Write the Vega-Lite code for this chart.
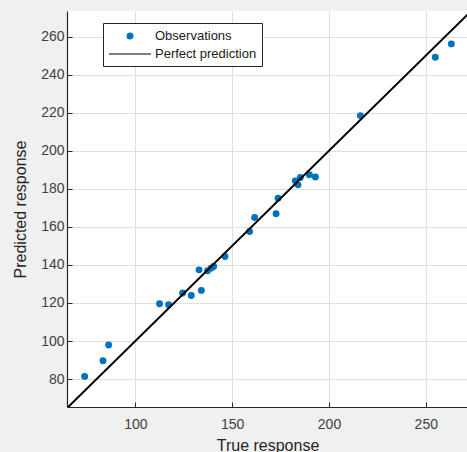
{
  "$schema": "https://vega.github.io/schema/vega-lite/v6.json",
  "autosize": "none",
  "width": 401,
  "height": 396,
  "padding": {"left": 67, "top": 11, "right": 0, "bottom": 45},
  "background": "#f0f0f0",
  "config": {
    "view": {"fill": "white", "stroke": null},
    "font": "Liberation Sans",
    "axis": {
      "gridColor": "#dfdfdf",
      "gridWidth": 1,
      "domainColor": "#262626",
      "domainWidth": 1.2,
      "tickColor": "#262626",
      "labelColor": "#404040",
      "titleColor": "#262626",
      "labelFont": "Liberation Sans",
      "titleFont": "Liberation Sans",
      "labelFontSize": 14,
      "titleFontSize": 16,
      "titleFontWeight": "normal"
    },
    "legend": {
      "title": null,
      "orient": "none",
      "legendX": 36,
      "legendY": 12,
      "padding": 5,
      "fillColor": "white",
      "strokeColor": "#262626",
      "cornerRadius": 0,
      "labelFont": "Liberation Sans",
      "labelFontSize": 13,
      "labelColor": "#1a1a1a",
      "labelOffset": 31,
      "rowPadding": 3,
      "symbolSize": 196,
      "symbolStrokeWidth": 1.2
    }
  },
  "datasets": {
    "obs": [
      {"t": 73.8, "p": 81.4}, {"t": 83.3, "p": 89.6}, {"t": 86.2, "p": 97.9},
      {"t": 112.5, "p": 119.6}, {"t": 117.2, "p": 119.1}, {"t": 124.4, "p": 125.2},
      {"t": 128.9, "p": 123.9}, {"t": 134.1, "p": 126.6}, {"t": 132.9, "p": 137.4},
      {"t": 137.3, "p": 136.9}, {"t": 139.1, "p": 138.3}, {"t": 140.4, "p": 139.2},
      {"t": 146.3, "p": 144.4}, {"t": 159.0, "p": 157.6}, {"t": 161.6, "p": 164.9},
      {"t": 172.7, "p": 166.9}, {"t": 173.7, "p": 175.1}, {"t": 182.6, "p": 184.2},
      {"t": 184.0, "p": 182.1}, {"t": 185.2, "p": 186.0}, {"t": 189.9, "p": 187.4},
      {"t": 193.0, "p": 186.2}, {"t": 216.2, "p": 218.5}, {"t": 254.9, "p": 249.2},
      {"t": 263.2, "p": 256.2}
    ],
    "perfect": [{"t": 64.7, "p": 64.7}, {"t": 275, "p": 275}],
    "none": []
  },
  "layer": [
    {
      "data": {"name": "obs"},
      "mark": {"type": "point", "filled": true, "opacity": 1, "size": 48},
      "encoding": {
        "x": {"field": "t", "type": "quantitative", "title": "True response",
              "scale": {"domain": [64.7, 271.8], "nice": false, "zero": false},
              "axis": {"values": [100, 150, 200, 250], "tickSize": -5, "labelPadding": 15, "titlePadding": 6}},
        "y": {"field": "p", "type": "quantitative", "title": "Predicted response",
              "scale": {"domain": [65.3, 273.5], "nice": false, "zero": false},
              "axis": {"values": [80, 100, 120, 140, 160, 180, 200, 220, 240, 260], "tickSize": -5, "labelPadding": 8, "titlePadding": 12}},
        "color": {
          "datum": "Observations", "type": "nominal",
          "scale": {"domain": ["Observations", "Perfect prediction"], "range": ["#0072BD", "#000000"]}
        }
      }
    },
    {
      "data": {"name": "perfect"},
      "mark": {"type": "line", "clip": true, "strokeWidth": 2},
      "encoding": {
        "x": {"field": "t", "type": "quantitative"},
        "y": {"field": "p", "type": "quantitative"},
        "color": {"datum": "Perfect prediction", "type": "nominal"}
      }
    },
    {
      "data": {"name": "none"},
      "mark": {"type": "point", "filled": true},
      "encoding": {
        "x": {"field": "t", "type": "quantitative"},
        "y": {"field": "p", "type": "quantitative"},
        "shape": {
          "datum": "Observations", "type": "nominal",
          "scale": {"domain": ["Observations", "Perfect prediction"], "range": ["M2.42,0A0.42,0.42,0,1,1,1.58,0A0.42,0.42,0,1,1,2.42,0Z", "M-1,0H5"]}
        }
      }
    }
  ]
}
